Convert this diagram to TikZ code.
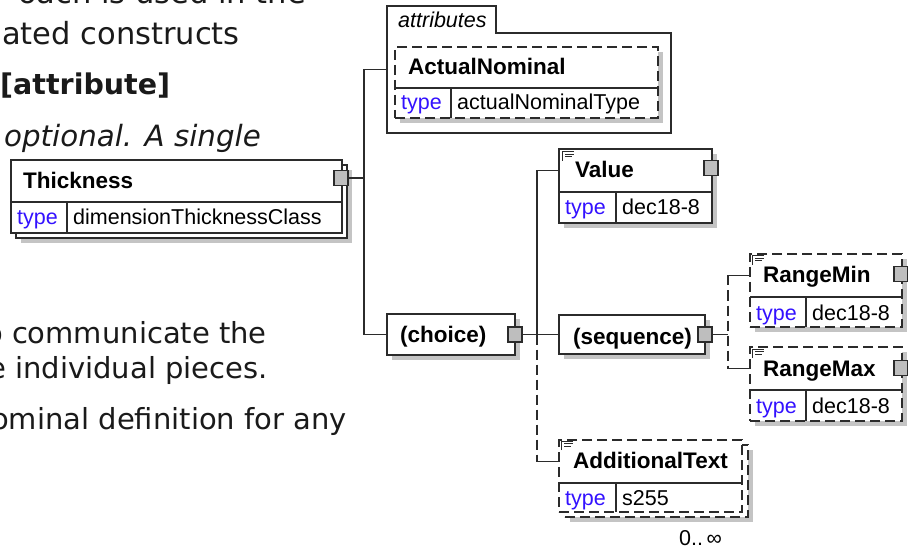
\documentclass[tikz,border=0pt]{standalone}
\usepackage{fontspec}
\setmainfont{Liberation Sans}
\newfontfamily\bodyfont{DejaVu Sans}
\usetikzlibrary{fit,shadows}
\definecolor{linec}{HTML}{2B2B2B}
\definecolor{shadowc}{HTML}{C4C4C4}
\definecolor{sqc}{HTML}{BEBEBE}
\definecolor{typec}{HTML}{3311FF}
\definecolor{bodyc}{HTML}{1A1A1A}
\newcommand{\nmfont}{\fontsize{22.5}{26}\selectfont\bfseries}
\newcommand{\tyfont}{\fontsize{21.5}{26}\selectfont}
\newcommand{\bdfont}{\bodyfont\fontsize{30.5}{36}\selectfont}
\newcommand{\bdsfont}{\bodyfont\fontsize{29}{36}\selectfont}
\newcommand{\bdbfont}{\bodyfont\fontsize{28.5}{36}\selectfont\bfseries}
\newcommand{\bdifont}{\bodyfont\fontsize{29.3}{36}\selectfont\itshape}
\newcommand{\docicon}[2]{%
  \begin{scope}[shift={(#1,#2)}]
    \draw[linec,line width=1pt] (0,9) -- (0,0) -- (12,0) (3,2.5) -- (12,2.5) (3,5) -- (10,5);
  \end{scope}}
\begin{document}
\begin{tikzpicture}[x=1pt,y=-1pt,
  ln/.style={draw=linec,line width=1.6pt},
  opt/.style={dash pattern=on 10pt off 5pt},
  row/.style={inner sep=0pt,outer sep=0pt},
  elbox/.style={draw=linec,line width=1.6pt,fill=white,inner sep=0pt,outer sep=0pt},
  shad/.style={drop shadow={shadow xshift=5pt,shadow yshift=-5pt,opacity=1,fill=shadowc}},
  sq/.style={draw=linec,fill=sqc,line width=1.4pt,minimum width=14pt,minimum height=15pt,inner sep=0pt},
  nm/.style={font=\nmfont,anchor=base west,inner sep=0pt},
  tp/.style={font=\tyfont,text=typec,anchor=base west,inner sep=0pt},
  vl/.style={font=\tyfont,anchor=base west,inner sep=0pt},
  bd/.style={font=\bdfont,text=bodyc,inner sep=0pt}]
\useasboundingbox (0,0) rectangle (908,548);
\fill[white] (0,0) rectangle (908,548);

% ---- body text ----
\node[bd,anchor=base east] (l1) at (306,4) {oach is used in the};
\node[bd,anchor=base east] (l2) at (240,45) {ated constructs};
\node[bd,anchor=base west,font=\bdbfont] (l3) at (0,95) {[attribute]};
\node[bd,anchor=base west,font=\bdifont] (l4) at (4,147) {optional. A single};
\node[bd,anchor=base east,font=\bdsfont] (l5) at (267,343) {o communicate the};
\node[bd,anchor=base east,font=\bdsfont] (l6) at (268,378) {e individual pieces.};
\node[bd,anchor=base east,font=\bdsfont] (l7) at (347,429) {ominal definition for any};

% ---- Thickness ----
\node[row,fit={(11,160)(342,202)}] (thN) {};
\node[row,fit={(11,202)(342,233)}] (thT) {};
\node[elbox,shad,fit={(16,165)(347,238)}] (thB) {};
\node[elbox,fit=(thN)(thT)] (th) {};
\draw[ln] (thT.north west) -- (thT.north east);
\draw[ln] (67,202) -- (67,233);
\node[nm] (thname) at (23,189) {Thickness};
\node[tp] (thtype) at (17,225) {type};
\node[vl] (thval) at (73,225) {dimensionThicknessClass};
\node[sq] (thsq) at (341,178) {};

% ---- attributes / ActualNominal ----
\node[row,fit={(387,6)(671,133)}] (attrs) {};
\draw[ln,fill=white] (387,6) -- (496,6) -- (496,33) -- (671,33) -- (671,133) -- (387,133) -- cycle;
\node[font=\tyfont\itshape,anchor=base west,inner sep=0pt] (attrlbl) at (398,28) {attributes};
\node[row,fit={(395,47)(658,88)}] (anN) {};
\node[row,fit={(395,88)(658,118)}] (anT) {};
\node[elbox,opt,shad,fit=(anN)(anT)] (an) {};
\draw[ln] (anT.north west) -- (anT.north east);
\draw[ln] (451,88) -- (451,118);
\node[nm] (anname) at (408,75) {ActualNominal};
\node[tp] (antype) at (401,110) {type};
\node[vl] (anval) at (457,110) {actualNominalType};

% ---- Value ----
\node[row,fit={(559,149)(712,192)}] (valN) {};
\node[row,fit={(559,192)(712,223)}] (valT) {};
\node[elbox,shad,fit=(valN)(valT)] (val) {};
\draw[ln] (valT.north west) -- (valT.north east);
\draw[ln] (616,192) -- (616,223);
\docicon{562}{152}
\node[nm] (valname) at (575,178) {Value};
\node[tp] (valtype) at (565,215) {type};
\node[vl] (valval) at (622,215) {dec18-8};
\node[sq] (valsq) at (711,168) {};

% ---- choice ----
\node[elbox,shad,fit={(387,314)(515,355)}] (choice) {};
\node[nm] (chname) at (400,342) {(choice)};
\node[sq] (chsq) at (choice.east) {};

% ---- sequence ----
\node[elbox,shad,fit={(559,315)(705,354)}] (seq) {};
\node[nm] (seqname) at (573,344) {(sequence)};
\node[sq] (seqsq) at (seq.east) {};

% ---- RangeMin ----
\node[row,fit={(750,254)(902,297)}] (minN) {};
\node[row,fit={(750,297)(902,327)}] (minT) {};
\node[elbox,opt,shad,fit=(minN)(minT)] (rmin) {};
\draw[ln] (minT.north west) -- (minT.north east);
\draw[ln] (806,297) -- (806,327);
\docicon{752}{256}
\node[nm] (minname) at (763,283) {RangeMin};
\node[tp] (mintype) at (756,320) {type};
\node[vl] (minval) at (812,320) {dec18-8};
\node[sq] (minsq) at (901,274) {};

% ---- RangeMax ----
\node[row,fit={(750,347)(902,390)}] (maxN) {};
\node[row,fit={(750,390)(902,421)}] (maxT) {};
\node[elbox,opt,shad,fit=(maxN)(maxT)] (rmax) {};
\draw[ln] (maxT.north west) -- (maxT.north east);
\draw[ln] (806,390) -- (806,421);
\docicon{752}{349}
\node[nm] (maxname) at (763,376) {RangeMax};
\node[tp] (maxtype) at (756,413) {type};
\node[vl] (maxval) at (812,413) {dec18-8};
\node[sq] (maxsq) at (901,368) {};

% ---- AdditionalText ----
\node[row,fit={(559,440)(742,483)}] (addN) {};
\node[row,fit={(559,483)(742,512)}] (addT) {};
\node[elbox,opt,shad,fit={(565,445)(748,517)}] (addB) {};
\node[elbox,opt,fit=(addN)(addT)] (add) {};
\draw[ln] (addT.north west) -- (addT.north east);
\draw[ln] (616,483) -- (616,512);
\docicon{561}{441}
\node[nm] (addname) at (573,468) {AdditionalText};
\node[tp] (addtype) at (565,505) {type};
\node[vl] (addval) at (622,505) {s255};
\node[vl] (occ) at (679,545) {0..\,∞};

% ---- connectors ----
\coordinate (tr1) at (364,0);
\coordinate (tr2) at (537,0);
\coordinate (tr3) at (728,0);
\draw[ln] (thsq.east) -- (thsq.east -| tr1);
\draw[ln] (attrs.west) -| (choice.west -| tr1) -- (choice.west);
\draw[ln] (chsq.east) -- (seq.west);
\draw[ln] (valN.west) -| (seq.west -| tr2);
\draw[ln,opt] (seq.west -| tr2) -- (addN.west -| tr2);
\draw[ln] (addN.west -| tr2) -- (addN.west);
\draw[ln] (seqsq.east) -- (seqsq.east -| tr3);
\draw[ln,opt] (minN.west -| tr3) -- (maxN.west -| tr3);
\draw[ln] (minN.west -| tr3) -- (minN.west);
\draw[ln] (maxN.west -| tr3) -- (maxN.west);
\end{tikzpicture}
\end{document}
